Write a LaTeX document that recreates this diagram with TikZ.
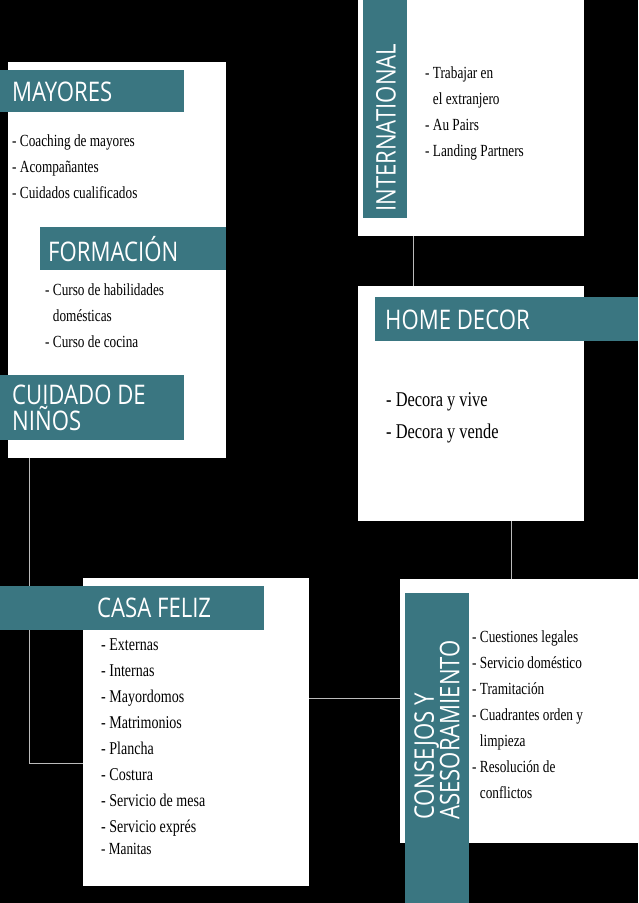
\documentclass[tikz,border=0pt]{standalone}
\usepackage{fontspec}
\setmainfont{Liberation Serif}[FakeStretch=0.78]
\newfontfamily\bannerfont{Open Sans}[FakeStretch=0.82]
\definecolor{teal}{HTML}{3A7681}
\definecolor{conn}{HTML}{BBBBBB}
\begin{document}
\begin{tikzpicture}[x=1pt,y=-1pt,
  panel/.style={fill=white},
  band/.style={fill=teal},
  btxt/.style={text=white,font=\bannerfont\fontsize{27}{26}\selectfont,inner sep=0pt,align=left},
  itm/.style={font=\fontsize{17}{26}\selectfont,inner sep=0pt,align=left,anchor=north west},
  conline/.style={draw=conn,line width=1pt}]
\useasboundingbox (0,0) rectangle (638,903);
\fill[black] (0,0) rectangle (638,903);
% panels
\fill[panel] (8,62) rectangle (226,458);
\fill[panel] (358,0) rectangle (584,236);
\fill[panel] (358,286) rectangle (584,521);
\fill[panel] (83,578) rectangle (309,886);
\fill[panel] (400,579) rectangle (638,843);
\coordinate (mayB) at (29,458);
\coordinate (cfL) at (83,763);
\coordinate (intB) at (413,236);
\coordinate (hdT) at (413,286);
\coordinate (hdB) at (511,521);
\coordinate (coT) at (511,579);
\coordinate (cfR) at (309,698);
\coordinate (coL) at (400,698);
\draw[conline] (mayB) |- (cfL);
\draw[conline] (intB) -- (hdT);
\draw[conline] (hdB) -- (coT);
\draw[conline] (cfR) -- (coL);
% banners
\fill[band] (0,70) rectangle (184,112);
\node[btxt,anchor=west] (may) at (12,92) {MAYORES};
\fill[band] (40,227) rectangle (226,270);
\node[btxt,anchor=west] (for) at (48,249) {FORMACIÓN};
\fill[band] (0,375) rectangle (184,440);
\node[btxt,anchor=west] (cui) at (12,408) {CUIDADO DE\\NIÑOS};
\fill[band] (363,0) rectangle (407,218);
\node[btxt,rotate=90,anchor=west] (int) at (386,212) {INTERNATIONAL};
\fill[band] (375,297) rectangle (638,341);
\node[btxt,anchor=west] (hd) at (385,320) {HOME DECOR};
\fill[band] (0,586) rectangle (264,630);
\node[btxt,anchor=west] (cf) at (97,608) {CASA FELIZ};
\fill[band] (405,593) rectangle (469,903);
\node[btxt,rotate=90,anchor=west,font=\bannerfont\fontsize{27}{24}\selectfont] (co) at (437,820) {CONSEJOS Y\\ASESORAMIENTO};
% items
\node[itm] (mayI) at (12,134) {- Coaching de mayores\\- Acompañantes\\- Cuidados cualificados};
\node[itm] (forI) at (45,283) {- Curso de habilidades\\\hphantom{- }domésticas\\- Curso de cocina};
\node[itm] (intI) at (425,66) {- Trabajar en\\\hphantom{- }el extranjero\\- Au Pairs\\- Landing Partners};
\node[itm,font=\fontsize{21}{32}\selectfont] (hdI) at (386,392) {- Decora y vive\\- Decora y vende};
\node[itm,font=\fontsize{18}{26}\selectfont] (cfI) at (101,639) {- Externas\\- Internas\\- Mayordomos\\- Matrimonios\\- Plancha\\- Costura\\- Servicio de mesa\\- Servicio exprés};
\node[itm,font=\fontsize{17}{20}\selectfont] (cfM) at (101,843) {- Manitas};
\node[itm] (coI) at (472,630) {- Cuestiones legales\\- Servicio doméstico\\- Tramitación\\- Cuadrantes orden y\\\hphantom{- }limpieza\\- Resolución de\\\hphantom{- }conflictos};
\end{tikzpicture}
\end{document}
